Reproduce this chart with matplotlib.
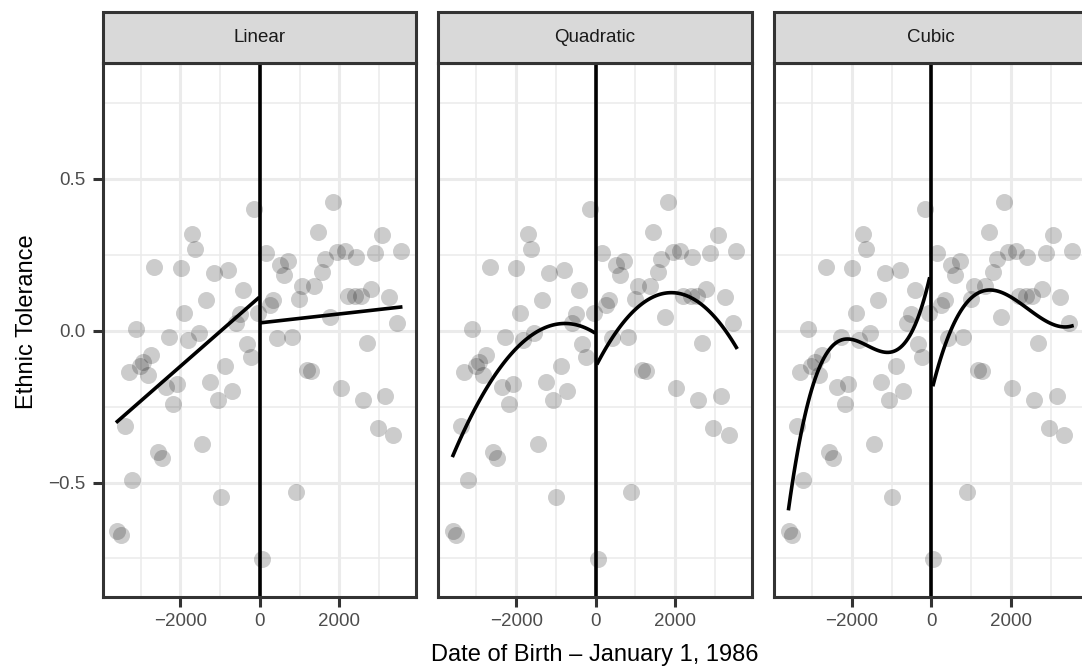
import numpy as np
import matplotlib.pyplot as plt
from matplotlib.patches import Rectangle
from matplotlib.ticker import MultipleLocator

plt.rcParams['font.family'] = ['Liberation Sans', 'DejaVu Sans']

# date of birth relative to 1986-01-01 (days) and ethnic tolerance
dob = [
    -150, 1829, -1711, -1635, 1451, 3069, -2659, -1996, -1165, -797,
    151, 503, 713, 604, 1644, 1937, 2130, 2415, 2885, 3539,
    1560, 1065, 1359, 990, 335, 252, 2206, 2390, 2541, 2784,
    3245, -419, -1350, -1904, -503, -50, -604, 1753, 3455, -3111,
    -2281, -1820, -1543, -336, -235, 419, 805, 2683, -2750, -3019,
    -2935, -3304, -2826, -881, -1258, -2088, -2365, -713, -2180, -1065,
    1174, 1275, 2029, 2583, 3153, 2960, 3346, -3388, -1451, -2574,
    -2474, -3220, -990, 897, -3589, -3505, 50,
]
tolerance = [
    0.400, 0.424, 0.318, 0.269, 0.326, 0.314, 0.209, 0.207, 0.190, 0.200,
    0.256, 0.215, 0.230, 0.184, 0.237, 0.258, 0.264, 0.244, 0.256, 0.262,
    0.193, 0.149, 0.148, 0.104, 0.102, 0.086, 0.113, 0.115, 0.116, 0.139,
    0.110, 0.134, 0.100, 0.060, 0.055, 0.058, 0.025, 0.045, 0.025, 0.005,
    -0.022, -0.032, -0.008, -0.044, -0.087, -0.024, -0.022, -0.041, -0.080, -0.115,
    -0.103, -0.137, -0.145, -0.117, -0.168, -0.174, -0.185, -0.199, -0.241, -0.229,
    -0.128, -0.134, -0.188, -0.227, -0.216, -0.319, -0.344, -0.313, -0.373, -0.399,
    -0.419, -0.491, -0.548, -0.530, -0.661, -0.674, -0.751,
]
panels = ['Linear', 'Quadratic', 'Cubic']
degrees = [1, 2, 3]

x = np.array(dob, dtype=float)
y = np.array(tolerance)

W, H = 1082, 668
fig = plt.figure(figsize=(W / 100, H / 100), dpi=100)

p_left = [102.7, 438.4, 774.0]
p_w = 313.3
p_top, p_bot = 63, 597
strip_top = 12

for i, (name, deg) in enumerate(zip(panels, degrees)):
    ax = fig.add_axes([p_left[i] / W, (H - p_bot) / H, p_w / W, (p_bot - p_top) / H])
    ax.set_xlim(-3957, 3925)
    ax.set_ylim(-0.877, 0.882)

    ax.xaxis.set_major_locator(MultipleLocator(2000))
    ax.xaxis.set_minor_locator(MultipleLocator(1000))
    ax.yaxis.set_major_locator(MultipleLocator(0.5))
    ax.yaxis.set_minor_locator(MultipleLocator(0.25))
    ax.grid(which='major', color='#EBEBEB', lw=2.2)
    ax.grid(which='minor', color='#EBEBEB', lw=1.1)
    ax.set_axisbelow(True)

    ax.scatter(x, y, s=150, color='black', alpha=0.2, linewidths=0, zorder=2)

    # separate polynomial fit on each side of the cutoff
    for side in (x < 0, x >= 0):
        coef = np.polyfit(x[side], y[side], deg)
        xs = np.linspace(x[side].min(), x[side].max(), 80)
        ax.plot(xs, np.polyval(coef, xs), color='black', lw=2.6, zorder=3)
    ax.axvline(0, color='black', lw=2.6, zorder=3)

    for sp in ax.spines.values():
        sp.set_color('#333333')
        sp.set_linewidth(2.2)
        sp.set_zorder(4)
    ax.tick_params(which='major', length=7.5, width=2.2, color='#333333',
                   labelcolor='#4D4D4D', labelsize=13.5)
    ax.tick_params(axis='x', pad=4)
    ax.tick_params(axis='y', pad=5)
    ax.tick_params(which='minor', length=0)
    ax.set_xticks([-2000, 0, 2000], ['\u22122000', '0', '2000'])
    if i == 0:
        ax.set_yticks([-0.5, 0, 0.5], ['\u22120.5', '0.0', '0.5'])
    else:
        ax.tick_params(axis='y', which='both', left=False, labelleft=False)

    # facet strip
    strip = Rectangle((p_left[i] / W, (H - p_top) / H), p_w / W, (p_top - strip_top) / H,
                      transform=fig.transFigure, facecolor='#D9D9D9',
                      edgecolor='#333333', lw=2.2, clip_on=False)
    fig.add_artist(strip)
    fig.text((p_left[i] + p_w / 2) / W, (H - (p_top + strip_top) / 2) / H, name,
             ha='center', va='center', fontsize=13.5, color='#1A1A1A')

fig.text((p_left[1] + p_w / 2) / W, 1 - 655 / H, 'Date of Birth \u2013 January 1, 1986',
         ha='center', va='center', fontsize=17, color='black')
fig.text(27 / W, 1 - 322 / H, 'Ethnic Tolerance', rotation=90,
         ha='center', va='center', fontsize=17, color='black')

fig.savefig('out.png', dpi=100)
